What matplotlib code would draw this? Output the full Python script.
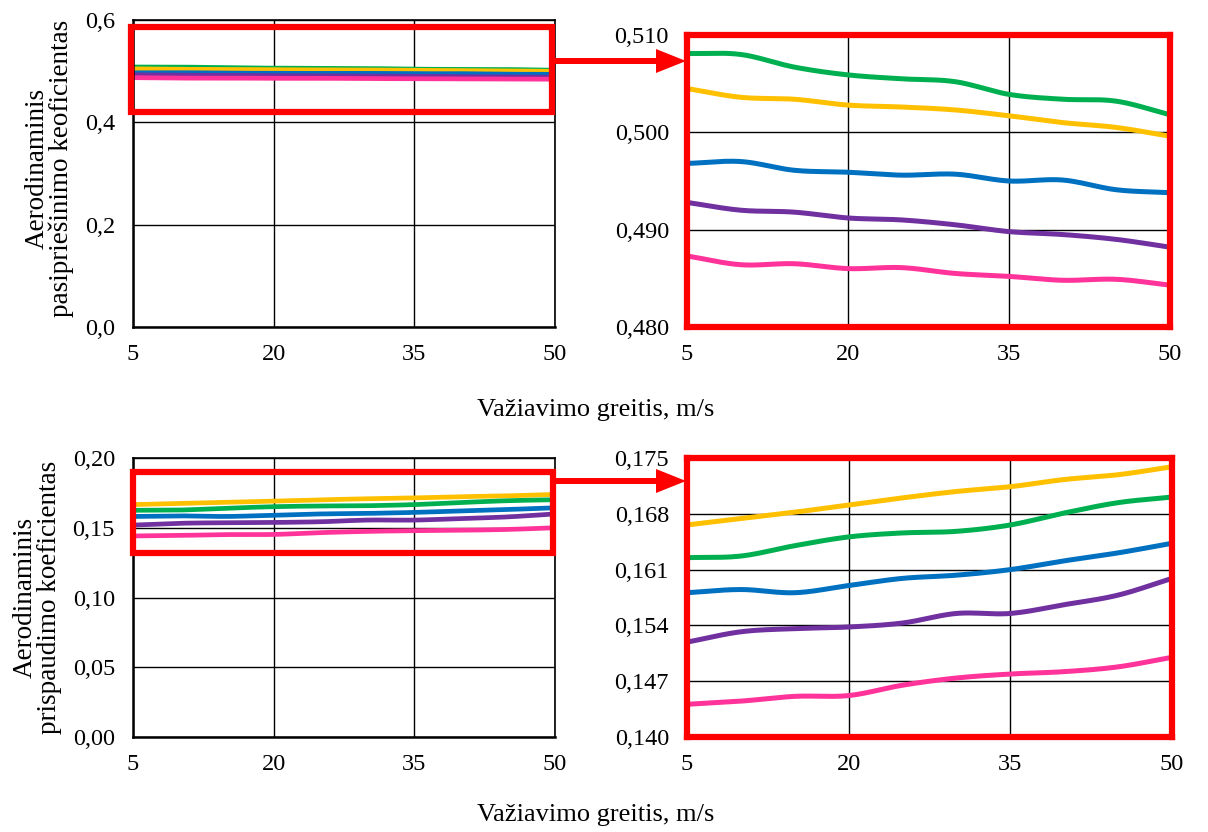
"""
Aerodynamic drag / downforce coefficients vs driving speed,
overview panels on the left, zoomed panels on the right.
"""
import numpy as np
import matplotlib
matplotlib.use("Agg")
import matplotlib.pyplot as plt
from matplotlib.patches import Rectangle, Polygon

plt.rcParams['font.family'] = ['Liberation Serif', 'DejaVu Serif']

# driving speed, m/s
speed = [5, 10, 15, 20, 25, 30, 35, 40, 45, 50]

# drag coefficient (pasipriešinimo)
drag_green = [0.5081, 0.5080, 0.5067, 0.5059, 0.5055, 0.5052, 0.5039, 0.5034, 0.5032, 0.5018]
drag_yellow = [0.5045, 0.5036, 0.5034, 0.5028, 0.5026, 0.5023, 0.5017, 0.5010, 0.5005, 0.4996]
drag_blue = [0.4968, 0.4970, 0.4961, 0.4959, 0.4956, 0.4957, 0.4950, 0.4951, 0.4941, 0.4938]
drag_purple = [0.4928, 0.4920, 0.4918, 0.4912, 0.4910, 0.4905, 0.4898, 0.4895, 0.4890, 0.4882]
drag_pink = [0.4873, 0.4864, 0.4865, 0.4860, 0.4861, 0.4855, 0.4852, 0.4848, 0.4849, 0.4843]

# downforce coefficient (prispaudimo)
down_yellow = [0.1666, 0.1674, 0.1682, 0.1691, 0.1700, 0.1708, 0.1714, 0.1723, 0.1729, 0.1739]
down_green = [0.1625, 0.1627, 0.1640, 0.1651, 0.1656, 0.1658, 0.1666, 0.1681, 0.1694, 0.1701]
down_blue = [0.1581, 0.1585, 0.1581, 0.1590, 0.1599, 0.1603, 0.1610, 0.1621, 0.1631, 0.1643]
down_purple = [0.1519, 0.1532, 0.1536, 0.1538, 0.1543, 0.1555, 0.1555, 0.1566, 0.1578, 0.1599]
down_pink = [0.1441, 0.1445, 0.1451, 0.1452, 0.1465, 0.1474, 0.1479, 0.1482, 0.1488, 0.1500]

colors = {'green': '#00B050', 'yellow': '#FFC000', 'blue': '#0070C0',
          'purple': '#7030A0', 'pink': '#FF3399'}

drag_series = [('green', drag_green), ('yellow', drag_yellow), ('blue', drag_blue),
               ('purple', drag_purple), ('pink', drag_pink)]
down_series = [('yellow', down_yellow), ('green', down_green), ('blue', down_blue),
               ('purple', down_purple), ('pink', down_pink)]


def smooth(x, y, n=20):
    """Catmull-Rom curve through the points, like Excel's smoothed line."""
    x = np.asarray(x, float)
    y = np.asarray(y, float)
    px = np.concatenate([[2 * x[0] - x[1]], x, [2 * x[-1] - x[-2]]])
    py = np.concatenate([[2 * y[0] - y[1]], y, [2 * y[-1] - y[-2]]])
    t = np.linspace(0, 1, n, endpoint=False)
    xs, ys = [], []
    for i in range(1, len(px) - 2):
        for p, out in ((px, xs), (py, ys)):
            p0, p1, p2, p3 = p[i - 1], p[i], p[i + 1], p[i + 2]
            out.append(0.5 * (2 * p1 + (-p0 + p2) * t
                              + (2 * p0 - 5 * p1 + 4 * p2 - p3) * t ** 2
                              + (-p0 + 3 * p1 - 3 * p2 + p3) * t ** 3))
    xs.append([x[-1]])
    ys.append([y[-1]])
    return np.concatenate(xs), np.concatenate(ys)


W, H = 1208, 832
fig = plt.figure(figsize=(W / 100, H / 100), dpi=100)


def frac(left, top, right, bottom):
    return [left / W, 1 - bottom / H, (right - left) / W, (bottom - top) / H]


def style(ax, ylim, yticks, fmt, red=False):
    ax.set_xlim(5, 50)
    ax.set_ylim(*ylim)
    ax.set_xticks([5, 20, 35, 50])
    ax.set_yticks(yticks)
    ax.set_yticklabels([fmt.format(v).replace('.', ',') for v in yticks])
    ax.grid(True, color='black', linewidth=1.0)
    ax.set_axisbelow(True)
    ax.tick_params(length=0, labelsize=17.5)
    ax.tick_params(axis='x', pad=12)
    ax.tick_params(axis='y', pad=13)
    for s in ax.spines.values():
        if red:
            s.set_color('red')
            s.set_linewidth(4.5)
        else:
            s.set_color('black')
            s.set_linewidth(1.2)
    ax.spines['bottom'].set_linewidth(4.5 if red else 1.8)
    ax.spines['left'].set_linewidth(4.5 if red else 1.8)


ax_tl = fig.add_axes(frac(133, 20, 555, 327))
ax_tr = fig.add_axes(frac(687, 35, 1170, 327))
ax_bl = fig.add_axes(frac(133, 458, 555, 737))
ax_br = fig.add_axes(frac(687, 458, 1172, 737))

for ax, series, lw in ((ax_tl, drag_series, 3.4), (ax_tr, drag_series, 3.6),
                       (ax_bl, down_series, 3.4), (ax_br, down_series, 3.6)):
    for name, vals in series:
        sx, sy = smooth(speed, vals)
        ax.plot(sx, sy, color=colors[name], linewidth=lw,
                solid_capstyle='butt', clip_on=False)

style(ax_tl, (0, 0.6), [0.0, 0.2, 0.4, 0.6], '{:.1f}')
style(ax_tr, (0.480, 0.510), [0.480, 0.490, 0.500, 0.510], '{:.3f}', red=True)
style(ax_bl, (0, 0.20), [0.00, 0.05, 0.10, 0.15, 0.20], '{:.2f}')
style(ax_br, (0.140, 0.175), [0.140, 0.147, 0.154, 0.161, 0.168, 0.175], '{:.3f}', red=True)

# red zoom boxes on the overview panels
ax_tl.add_patch(Rectangle((4.8, 0.420), 49.7 - 4.8, 0.586 - 0.420, fill=False,
                          edgecolor='red', linewidth=4.5, clip_on=False, zorder=5))
ax_bl.add_patch(Rectangle((5.0, 0.132), 49.8 - 5.0, 0.190 - 0.132, fill=False,
                          edgecolor='red', linewidth=4.5, clip_on=False, zorder=5))


# arrows between panels, drawn in figure pixels (top-left origin)
def arrow(y, x0=555, x1=686, half=3, head=12, head_len=30):
    pts = [(x0, y - half), (x1 - head_len, y - half), (x1 - head_len, y - head),
           (x1, y), (x1 - head_len, y + head), (x1 - head_len, y + half), (x0, y + half)]
    pts = [(px / 100, (H - py) / 100) for px, py in pts]
    fig.add_artist(Polygon(pts, closed=True, facecolor='red', edgecolor='none',
                           transform=fig.dpi_scale_trans))


arrow(61)
arrow(481)

# axis titles
fig.text(596 / W, 1 - 410 / H, 'Važiavimo greitis, m/s', ha='center', va='center', fontsize=19)
fig.text(596 / W, 1 - 815 / H, 'Važiavimo greitis, m/s', ha='center', va='center', fontsize=19)
fig.text(49 / W, 1 - 168 / H, 'Aerodinaminis\npasipriešinimo keoficientas', rotation=90,
         ha='center', va='center', multialignment='center', fontsize=19.5, linespacing=0.95)
fig.text(37 / W, 1 - 597 / H, 'Aerodinaminis\nprispaudimo koeficientas', rotation=90,
         ha='center', va='center', multialignment='center', fontsize=19.5, linespacing=0.95)

fig.savefig('out.png', dpi=100)
